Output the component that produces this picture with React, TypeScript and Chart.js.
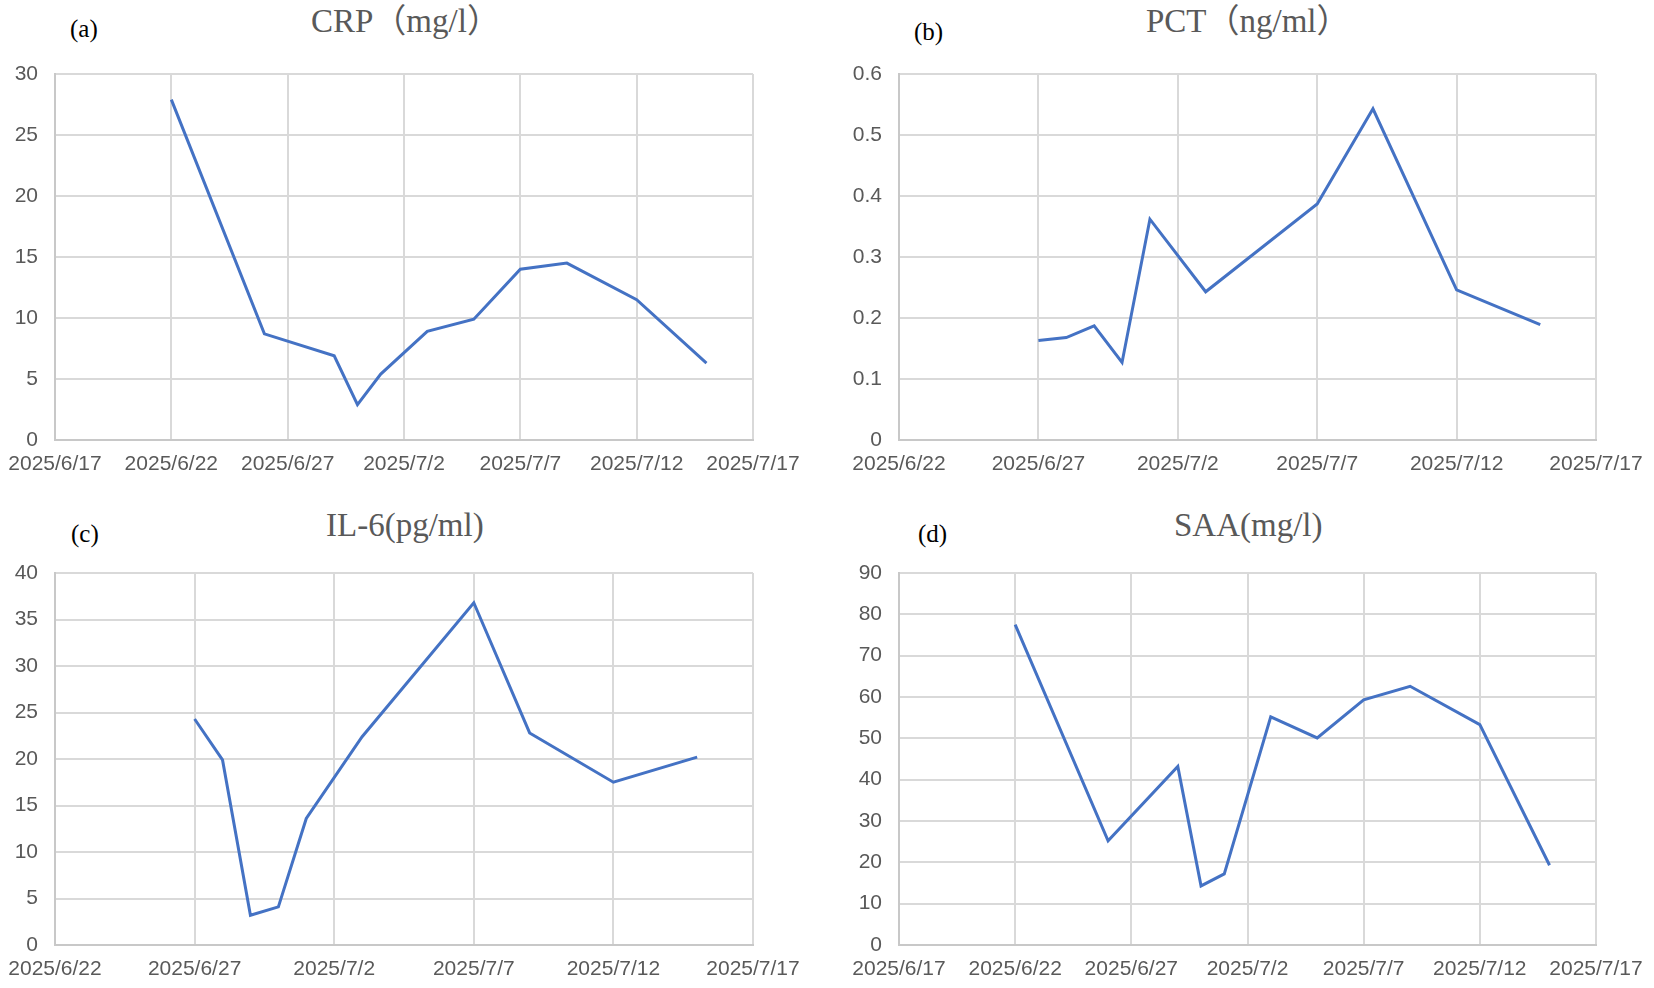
import React, { useEffect, useRef } from 'react';
import { Chart, registerables } from 'chart.js';

Chart.register(...registerables);

// ---------- data ----------
const crpDates = ['2025/6/22', '2025/6/26', '2025/6/29', '2025/6/30', '2025/7/1', '2025/7/3', '2025/7/5', '2025/7/7', '2025/7/9', '2025/7/12', '2025/7/15'];
const crpValues = [27.9, 8.7, 6.9, 2.9, 5.4, 8.9, 9.9, 14.0, 14.5, 11.5, 6.3];

const pctDates = ['2025/6/27', '2025/6/28', '2025/6/29', '2025/6/30', '2025/7/1', '2025/7/3', '2025/7/7', '2025/7/9', '2025/7/12', '2025/7/15'];
const pctValues = [0.163, 0.168, 0.187, 0.127, 0.362, 0.243, 0.387, 0.543, 0.246, 0.189];

const il6Dates = ['2025/6/27', '2025/6/28', '2025/6/29', '2025/6/30', '2025/7/1', '2025/7/3', '2025/7/7', '2025/7/9', '2025/7/12', '2025/7/15'];
const il6Values = [24.3, 19.9, 3.2, 4.1, 13.6, 22.4, 36.8, 22.8, 17.5, 20.2];

const saaDates = ['2025/6/22', '2025/6/26', '2025/6/29', '2025/6/30', '2025/7/1', '2025/7/3', '2025/7/5', '2025/7/7', '2025/7/9', '2025/7/12', '2025/7/15'];
const saaValues = [77.5, 25.2, 43.2, 14.3, 17.2, 55.2, 50.1, 59.3, 62.6, 53.3, 19.3];

const xTicksFrom617 = ['2025/6/17', '2025/6/22', '2025/6/27', '2025/7/2', '2025/7/7', '2025/7/12', '2025/7/17'];
const xTicksFrom622 = ['2025/6/22', '2025/6/27', '2025/7/2', '2025/7/7', '2025/7/12', '2025/7/17'];

const crpYTicks = [0, 5, 10, 15, 20, 25, 30];
const pctYTicks = [0, 0.1, 0.2, 0.3, 0.4, 0.5, 0.6];
const il6YTicks = [0, 5, 10, 15, 20, 25, 30, 35, 40];
const saaYTicks = [0, 10, 20, 30, 40, 50, 60, 70, 80, 90];

// ---------- helpers ----------
function toDay(s: string): number {
  const [y, m, d] = s.split('/').map(Number);
  return Math.round(Date.UTC(y, m - 1, d) / 86400000);
}

const Y_AXIS_W = 55;
const X_AXIS_H = 42;
const PAD_TOP = 32;
const PAD_RIGHT = 64;
const PAD_LEFT = 10;

type PanelProps = {
  dates: string[];
  values: number[];
  xTicks: string[];
  yTicks: number[];
  plot: { left: number; top: number; right: number; bottom: number };
};

function Panel({ dates, values, xTicks, yTicks, plot }: PanelProps) {
  const ref = useRef<HTMLCanvasElement | null>(null);
  const left = plot.left - Y_AXIS_W - PAD_LEFT;
  const top = plot.top - PAD_TOP;
  const width = plot.right - plot.left + Y_AXIS_W + PAD_LEFT + PAD_RIGHT;
  const height = plot.bottom - plot.top + PAD_TOP + X_AXIS_H;

  useEffect(() => {
    if (!ref.current) return;
    const xVals = xTicks.map(toDay);
    const tickFont = { family: '"Liberation Sans", Arial, sans-serif', size: 21 };
    const chart = new Chart(ref.current, {
      type: 'line',
      data: {
        datasets: [
          {
            data: dates.map((d, i) => ({ x: toDay(d), y: values[i] })),
            borderColor: '#4472C4',
            borderWidth: 3,
            pointRadius: 0,
            pointHoverRadius: 0,
            tension: 0,
            fill: false,
          },
        ],
      },
      options: {
        animation: false,
        responsive: true,
        maintainAspectRatio: false,
        layout: { padding: { left: PAD_LEFT, top: PAD_TOP, right: PAD_RIGHT, bottom: 0 } },
        plugins: {
          legend: { display: false },
          tooltip: { enabled: false },
        },
        scales: {
          x: {
            type: 'linear',
            min: xVals[0],
            max: xVals[xVals.length - 1],
            afterBuildTicks: (s: any) => {
              s.ticks = xVals.map((v) => ({ value: v }));
            },
            afterFit: (s: any) => {
              s.height = X_AXIS_H;
            },
            ticks: {
              autoSkip: false,
              maxRotation: 0,
              minRotation: 0,
              padding: 12,
              color: '#595959',
              font: tickFont,
              callback: (v: any) => {
                const idx = xVals.indexOf(Number(v));
                return idx >= 0 ? xTicks[idx] : '';
              },
            },
            grid: { color: '#d9d9d9', lineWidth: 2, drawTicks: false },
            border: { color: '#c8c8c8', width: 2 },
          },
          y: {
            type: 'linear',
            min: yTicks[0],
            max: yTicks[yTicks.length - 1],
            afterBuildTicks: (s: any) => {
              s.ticks = yTicks.map((v) => ({ value: v }));
            },
            afterFit: (s: any) => {
              s.width = Y_AXIS_W;
            },
            ticks: {
              autoSkip: false,
              padding: 17,
              color: '#595959',
              font: tickFont,
              callback: (v: any) => String(Number(Number(v).toFixed(2))),
            },
            grid: { color: '#d9d9d9', lineWidth: 2, drawTicks: false },
            border: { color: '#c8c8c8', width: 2 },
          },
        },
      } as any,
    });
    return () => chart.destroy();
  }, []);

  return (
    <div style={{ position: 'absolute', left, top, width, height }}>
      <canvas ref={ref} />
    </div>
  );
}

const titleFont = '"Liberation Serif", "Times New Roman", "Noto Sans CJK SC", serif';

function Title({ text, x, baseline }: { text: string; x: number; baseline: number }) {
  const size = 33;
  return (
    <div
      style={{
        position: 'absolute',
        left: x,
        top: baseline - size * 0.8375,
        fontFamily: titleFont,
        fontSize: size,
        lineHeight: `${size}px`,
        color: '#595959',
        whiteSpace: 'nowrap',
      }}
    >
      {text}
    </div>
  );
}

function Letter({ text, x, baseline }: { text: string; x: number; baseline: number }) {
  const size = 25;
  return (
    <div
      style={{
        position: 'absolute',
        left: x,
        top: baseline - size * 0.8375,
        fontFamily: titleFont,
        fontSize: size,
        lineHeight: `${size}px`,
        color: '#000',
        whiteSpace: 'nowrap',
      }}
    >
      {text}
    </div>
  );
}

export default function App() {
  return (
    <div
      style={{
        position: 'absolute',
        left: 0,
        top: 0,
        width: 1654,
        height: 988,
        background: '#fff',
        overflow: 'hidden',
      }}
    >
      <Title text="CRP（mg/l）" x={311} baseline={33} />
      <Title text="PCT（ng/ml）" x={1146} baseline={33} />
      <Title text="IL-6(pg/ml)" x={326} baseline={537} />
      <Title text="SAA(mg/l)" x={1174} baseline={537} />
      <Letter text="(a)" x={70} baseline={37} />
      <Letter text="(b)" x={914} baseline={39.5} />
      <Letter text="(c)" x={71} baseline={542} />
      <Letter text="(d)" x={918} baseline={542} />

      <Panel dates={crpDates} values={crpValues} xTicks={xTicksFrom617} yTicks={crpYTicks} plot={{ left: 55, top: 74, right: 753, bottom: 440 }} />
      <Panel dates={pctDates} values={pctValues} xTicks={xTicksFrom622} yTicks={pctYTicks} plot={{ left: 899, top: 74, right: 1596, bottom: 440 }} />
      <Panel dates={il6Dates} values={il6Values} xTicks={xTicksFrom622} yTicks={il6YTicks} plot={{ left: 55, top: 573, right: 753, bottom: 945 }} />
      <Panel dates={saaDates} values={saaValues} xTicks={xTicksFrom617} yTicks={saaYTicks} plot={{ left: 899, top: 573, right: 1596, bottom: 945 }} />
    </div>
  );
}
